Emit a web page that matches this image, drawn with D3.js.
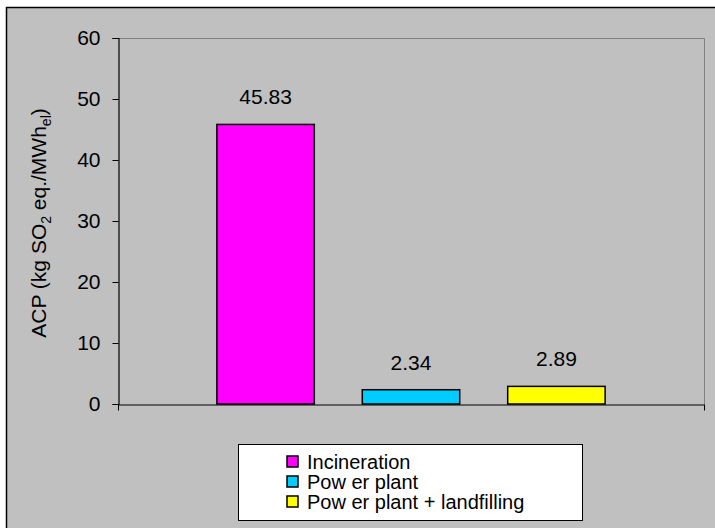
<!DOCTYPE html>
<html>
<head>
<meta charset="utf-8">
<script src="https://cdn.jsdelivr.net/npm/d3@7"></script>
<style>
  html, body { margin: 0; padding: 0; background: #ffffff; }
  svg { display: block; }
  text { font-family: "Liberation Sans", Arial, sans-serif; fill: #000; }
</style>
</head>
<body>
<div id="chart"></div>
<script>
// Acidification potential per scenario
const categories = ["Incineration", "Pow er plant", "Pow er plant + landfilling"];
const values = [45.83, 2.34, 2.89];
const colors = ["#ff00ff", "#00ccff", "#ffff00"];
const valueLabels = ["45.83", "2.34", "2.89"];
const yTicks = [0, 10, 20, 30, 40, 50, 60];

const W = 715, H = 528;
const FONT = "Liberation Sans, Arial, sans-serif";
const svg = d3.select("#chart").append("svg").attr("width", W).attr("height", H);

// chart frame
svg.append("rect").attr("x", 6.5).attr("y", 7.5).attr("width", W).attr("height", H)
  .attr("fill", "#c0c0c0").attr("stroke", "#000").attr("stroke-width", 1.5);

const plot = { left: 118, right: 704, top: 38, bottom: 404 };

const y = d3.scaleLinear().domain([0, 60]).range([plot.bottom, plot.top]);
const x = d3.scaleBand().domain(categories).range([plot.left, plot.right])
  .paddingInner(0.33).paddingOuter(0.68);

// plot area border (top and right)
svg.append("path")
  .attr("d", `M${plot.left},${plot.top + 0.5}H${plot.right + 0.5}V${plot.bottom}`)
  .attr("fill", "none").attr("stroke", "#808080").attr("stroke-width", 1);

// bars
svg.selectAll("rect.bar").data(values).enter().append("rect")
  .attr("class", "bar")
  .attr("x", (d, i) => x(categories[i]))
  .attr("width", x.bandwidth())
  .attr("y", d => y(d))
  .attr("height", d => y(0) - y(d))
  .attr("fill", (d, i) => colors[i])
  .attr("stroke", "#000").attr("stroke-width", 1.5);

// value labels
svg.selectAll("text.val").data(values).enter().append("text")
  .attr("class", "val")
  .attr("x", (d, i) => x(categories[i]) + x.bandwidth() / 2)
  .attr("y", d => y(d) - 20)
  .attr("text-anchor", "middle")
  .attr("font-size", 21)
  .text((d, i) => valueLabels[i]);

// y axis
const yAxis = d3.axisLeft(y).tickValues(yTicks).tickSize(6).tickPadding(12).tickFormat(d3.format("d"));
const gy = svg.append("g").attr("transform", `translate(${plot.left + 0.5},0)`).call(yAxis);
gy.select(".domain").attr("stroke", "#000").attr("stroke-width", 1.2);
gy.selectAll(".tick line").attr("stroke", "#000");
gy.selectAll(".tick text").attr("font-size", 21).attr("font-family", FONT).attr("fill", "#000");

// x axis line with boundary ticks
const xb = d3.scaleLinear().domain([0, 1]).range([plot.left, plot.right]);
const xAxis = d3.axisBottom(xb).tickValues([0, 1]).tickSize(6).tickSizeOuter(0).tickFormat("");
const gx = svg.append("g").attr("transform", `translate(0,${plot.bottom + 0.5})`).call(xAxis);
gx.select(".domain").attr("stroke", "#000").attr("stroke-width", 1.2);
gx.selectAll(".tick line").attr("stroke", "#000");

// y axis title with subscripts
const yt = svg.append("text")
  .attr("transform", `translate(46,${(plot.top + plot.bottom) / 2 + 2}) rotate(-90)`)
  .attr("text-anchor", "middle").attr("font-size", 21);
yt.append("tspan").text("ACP (kg SO");
yt.append("tspan").attr("font-size", 14).attr("dy", 5).text("2");
yt.append("tspan").attr("dy", -5).text(" eq./MWh");
yt.append("tspan").attr("font-size", 14).attr("dy", 5).text("el");
yt.append("tspan").attr("dy", -5).text(")");

// legend
const lg = svg.append("g");
lg.append("rect").attr("x", 238.5).attr("y", 444.5).attr("width", 344).attr("height", 76)
  .attr("fill", "#ffffff").attr("stroke", "#000").attr("stroke-width", 1);
const rowY = d3.scalePoint().domain(categories).range([462, 502]);
categories.forEach((c, i) => {
  lg.append("rect").attr("x", 287).attr("y", rowY(c) - 6).attr("width", 11).attr("height", 11)
    .attr("fill", colors[i]).attr("stroke", "#000").attr("stroke-width", 1.5);
  lg.append("text").attr("x", 307).attr("y", rowY(c) + 7).attr("font-size", 20).text(c);
});
</script>
</body>
</html>
